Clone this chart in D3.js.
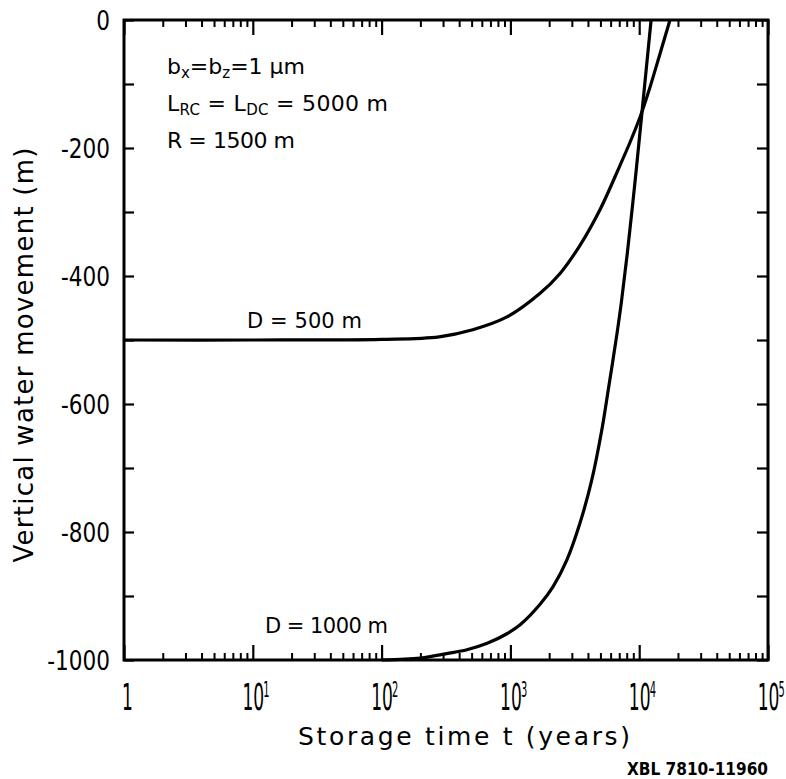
<!DOCTYPE html>
<html>
<head>
<meta charset="utf-8">
<script src="https://cdn.jsdelivr.net/npm/d3@7"></script>
<style>
  body { margin: 0; background: #fff; }
  text { font-family: "DejaVu Sans", sans-serif; fill: #000; }
</style>
</head>
<body>
<svg id="svg" width="786" height="779"></svg>
<script>
"use strict";

// curve D = 500 m : storage time (years) vs vertical movement (m)
const d500Time  = [1, 10, 100, 280, 510, 940, 1700, 2430, 3470, 4970, 7100, 8490, 10140, 12130, 14490, 17340];
const d500Depth = [-500, -500, -499, -495, -484, -464, -427, -396, -352, -296, -227, -191, -152, -105, -53, 0];

// curve D = 1000 m
const d1000Time  = [100, 200, 320, 460, 660, 940, 1190, 1700, 2150, 2740, 3470, 4280, 5120, 5750, 6700, 7260, 8090, 9200, 10440, 12370];
const d1000Depth = [-1000, -997, -990, -984, -974, -959, -945, -913, -885, -844, -786, -719, -641, -578, -492, -442, -364, -260, -150, 0];

// axes
const decades = [1, 10, 100, 1000, 10000, 100000];
const decadeExponents = ["", "1", "2", "3", "4", "5"];
const minorMultipliers = [2, 3, 4, 5, 6, 7, 8, 9];
const depthTicks = [0, -100, -200, -300, -400, -500, -600, -700, -800, -900, -1000];
const depthLabels = [0, -200, -400, -600, -800, -1000];

const paramLines = [
    [["b", 0], ["x", 1], ["=b", 0], ["z", 1], ["=1 \u03bcm", 0]],
    [["L", 0], ["RC", 1], [" = L", 0], ["DC", 1], [" = 5000 m", 0]],
    [["R = 1500 m", 0]]
];
const paramLengths = [null, 221, 128];

const plotLeft = 124, plotRight = 768, plotTop = 20, plotBottom = 660;

var svg = d3.select("svg");

var x = d3.scaleLog().domain([1, 1e5]).range([plotLeft, plotRight]);
var y = d3.scaleLinear().domain([-1000, 0]).range([plotBottom, plotTop]);

var minorTimes = [];
decades.slice(0, -1).forEach(function(d) {
    minorMultipliers.forEach(function(m) { minorTimes.push(d * m); });
});

function styleTicks(g, width) {
    g.select(".domain").remove();
    g.selectAll(".tick line").attr("stroke", "#000").attr("stroke-width", width);
}

// minor ticks, bottom and top (pointing inward)
svg.append("g")
    .attr("transform", "translate(0," + plotBottom + ")")
    .call(d3.axisBottom(x).tickValues(minorTimes).tickSize(-7).tickFormat(""))
    .call(styleTicks, 2);
svg.append("g")
    .attr("transform", "translate(0," + plotTop + ")")
    .call(d3.axisTop(x).tickValues(minorTimes).tickSize(-7).tickFormat(""))
    .call(styleTicks, 2);
svg.append("g")
    .attr("transform", "translate(0," + plotTop + ")")
    .call(d3.axisTop(x).tickValues(decades).tickSize(-15).tickFormat(""))
    .call(styleTicks, 2.2);

// major ticks with 10^n labels
const sx = 0.45;
var xAxis = svg.append("g")
    .attr("transform", "translate(0," + plotBottom + ")")
    .call(d3.axisBottom(x).tickValues(decades).tickSize(-15).tickFormat(function(d, i) { return i === 0 ? "1" : "10"; }))
    .call(styleTicks, 2.2);
xAxis.selectAll(".tick text")
    .attr("font-size", 38)
    .attr("y", 50)
    .attr("dy", 0)
    .attr("x", function(d, i) { return i === 0 ? 3 / sx : 0; })
    .attr("transform", "scale(" + sx + ",1)");
xAxis.selectAll(".tick").each(function(d, i) {
    if (i === 0) return;
    d3.select(this).append("text")
        .attr("font-size", 22)
        .attr("text-anchor", "start")
        .attr("x", 10 / sx)
        .attr("y", 37)
        .attr("transform", "scale(" + sx + ",1)")
        .text(decadeExponents[i]);
});

// y ticks, left and right
const sy = 0.8;
var yAxis = svg.append("g")
    .attr("transform", "translate(" + plotLeft + ",0)")
    .call(d3.axisLeft(y).tickValues(depthTicks).tickSize(-10).tickPadding(14)
        .tickFormat(function(d) { return depthLabels.indexOf(d) >= 0 ? d3.format("d")(d).replace("\u2212", "-") : ""; }))
    .call(styleTicks, 2.2);
yAxis.selectAll(".tick text")
    .attr("font-size", 27)
    .attr("x", -14 / sy)
    .attr("dy", "0.36em")
    .attr("transform", "scale(" + sy + ",1)");
svg.append("g")
    .attr("transform", "translate(" + plotRight + ",0)")
    .call(d3.axisRight(y).tickValues(depthTicks).tickSize(-11).tickFormat(""))
    .call(styleTicks, 2.2);

// frame
svg.append("rect")
    .attr("x", plotLeft).attr("y", plotTop)
    .attr("width", plotRight - plotLeft).attr("height", plotBottom - plotTop)
    .attr("fill", "none").attr("stroke", "#000").attr("stroke-width", 3);

// curves
var line = d3.line()
    .x(function(d) { return x(d.t); })
    .y(function(d) { return y(d.v); })
    .curve(d3.curveCatmullRom.alpha(0.5));

var series = [
    d500Time.map(function(t, i) { return { t: t, v: d500Depth[i] }; }),
    d1000Time.map(function(t, i) { return { t: t, v: d1000Depth[i] }; })
];

svg.append("g")
    .selectAll("path")
    .data(series)
    .enter()
    .append("path")
        .attr("d", line)
        .attr("fill", "none")
        .attr("stroke", "#000")
        .attr("stroke-width", 3.2)
        .attr("stroke-linejoin", "round");

// curve labels
svg.append("text")
    .attr("x", 247).attr("y", 328)
    .attr("font-size", 21)
    .attr("textLength", 115).attr("lengthAdjust", "spacing")
    .text("D = 500 m");
svg.append("text")
    .attr("x", 265).attr("y", 633)
    .attr("font-size", 21)
    .attr("textLength", 123).attr("lengthAdjust", "spacing")
    .text("D = 1000 m");

// parameter block
var params = svg.append("g");
paramLines.forEach(function(parts, i) {
    var t = params.append("text")
        .attr("x", 167)
        .attr("y", 74 + i * 37)
        .attr("font-size", 22);
    if (paramLengths[i]) t.attr("textLength", paramLengths[i]).attr("lengthAdjust", "spacing");
    parts.forEach(function(p) {
        var span = t.append("tspan").text(p[0]);
        if (p[1]) span.attr("font-size", 15).attr("baseline-shift", "-28%");
    });
});

// axis titles
svg.append("text")
    .attr("x", 298).attr("y", 745)
    .attr("font-size", 25)
    .attr("textLength", 332).attr("lengthAdjust", "spacing")
    .text("Storage time t (years)");
svg.append("text")
    .attr("transform", "translate(33,355) rotate(-90)")
    .attr("text-anchor", "middle")
    .attr("font-size", 26)
    .attr("textLength", 415).attr("lengthAdjust", "spacing")
    .text("Vertical water movement (m)");

// plate number
svg.append("text")
    .attr("x", 627).attr("y", 775)
    .attr("font-family", "Liberation Mono, DejaVu Sans Mono, monospace")
    .attr("font-weight", "bold")
    .attr("font-size", 17)
    .attr("textLength", 141).attr("lengthAdjust", "spacingAndGlyphs")
    .text("XBL 7810-11960");
</script>
</body>
</html>
